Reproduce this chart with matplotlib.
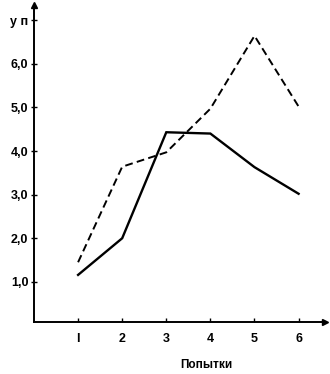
import matplotlib
matplotlib.use("Agg")
import matplotlib.pyplot as plt

attempts = [1, 2, 3, 4, 5, 6]
solid_vals = [1.16, 2.0, 4.43, 4.4, 3.63, 3.02]
dashed_vals = [1.45, 3.64, 3.97, 4.97, 6.64, 5.02]
ytick_vals = [1, 2, 3, 4, 5, 6, 7]
ytick_labels = ["1,0", "2,0", "3,0", "4,0", "5,0", "6,0", "у п"]
xtick_labels = ["I", "2", "3", "4", "5", "6"]

plt.rcParams["font.family"] = ["Liberation Sans", "DejaVu Sans"]

fig = plt.figure(figsize=(3.3, 3.74), dpi=100)
ax = fig.add_axes([0.103, 0.139, 0.882, 0.848])

ax.plot(attempts, solid_vals, color="black", lw=1.7, solid_joinstyle="miter")
ax.plot(attempts, dashed_vals, color="black", lw=1.4, dashes=(4, 2.2))

ax.set_xlim(0, 6.6)
ax.set_ylim(0.08, 7.35)

for s in ["top", "right"]:
    ax.spines[s].set_visible(False)
for s in ["left", "bottom"]:
    ax.spines[s].set_linewidth(1.4)

# стрелки на осях
ax.plot(1, 0, ">k", ms=5, transform=ax.transAxes, clip_on=False)
ax.plot(0, 1, "^k", ms=5, transform=ax.transAxes, clip_on=False)

ax.set_yticks(ytick_vals)
ax.set_yticklabels(ytick_labels, fontsize=9, fontweight="bold")
ax.set_xticks(attempts)
ax.set_xticklabels(xtick_labels, fontsize=9, fontweight="bold")
ax.tick_params(axis="y", direction="inout", length=4, width=1, pad=2)
ax.tick_params(axis="x", direction="in", length=3, width=1, pad=8)

ax.text(3.9, -0.9, "Попытки", ha="center", va="center", fontsize=8.5,
        fontweight="bold")

fig.savefig("out.png", dpi=100)
